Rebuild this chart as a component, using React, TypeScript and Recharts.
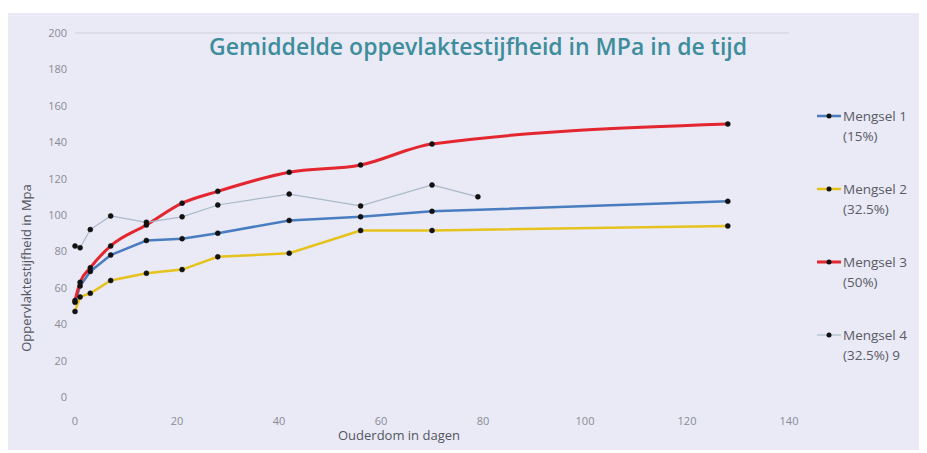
import {
  LineChart,
  Line,
  XAxis,
  YAxis,
  ReferenceLine,
  Label,
} from "recharts";

const days = [0, 1, 3, 7, 14, 21, 28, 42, 56, 70, 128];
const mengsel1 = [52, 61, 69, 78, 86, 87, 90, 97, 99, 102, 107.5];
const mengsel2 = [47, 55, 57, 64, 68, 70, 77, 79, 91.5, 91.5, 94];
const mengsel3 = [53, 63, 71, 83, 94.5, 106.5, 113, 123.5, 127.5, 139, 150];

const days4 = [0, 1, 3, 7, 14, 21, 28, 42, 56, 70, 79];
const mengsel4 = [83, 82, 92, 99.5, 96, 99, 105.5, 111.5, 105, 116.5, 110];

const xTicks = [0, 20, 40, 60, 80, 100, 120, 140];
const yTicks = [0, 20, 40, 60, 80, 100, 120, 140, 160, 180, 200];

const seriesNames = ["Mengsel 1", "Mengsel 2", "Mengsel 3", "Mengsel 4"];
const seriesSub = ["(15%)", "(32.5%)", "(50%)", "(32.5%) 9"];
const seriesColors = ["#4a7dbf", "#e6c21c", "#e3262f", "#a9b9c9"];
const seriesWidths = [2.5, 2.5, 3, 1.2];
const seriesCurves = ["linear", "linear", "monotone", "linear"] as const;

const toRows = (xs: number[], ys: number[]) =>
  xs.map((d, i) => ({ day: d, value: ys[i] }));

const series = [
  toRows(days, mengsel1),
  toRows(days, mengsel2),
  toRows(days, mengsel3),
  toRows(days4, mengsel4),
];

const FONT = "'Open Sans', 'Noto Sans', sans-serif";

function LegendBox() {
  return (
    <div
      style={{
        position: "absolute",
        left: 807,
        top: 93,
        width: 105,
        fontFamily: FONT,
        fontSize: 13.5,
        color: "#5a5a66",
      }}
    >
      {seriesNames.map((name, i) => (
        <div key={name} style={{ height: 73, display: "flex", alignItems: "flex-start" }}>
          <svg width={28} height={20} style={{ flex: "none" }}>
            <line x1={2} y1={10} x2={26} y2={10} stroke={seriesColors[i]} strokeWidth={seriesWidths[i]} />
            <circle cx={14} cy={10} r={2.5} fill="#111" />
          </svg>
          <div style={{ lineHeight: "20px" }}>
            <div>{name}</div>
            <div>{seriesSub[i]}</div>
          </div>
        </div>
      ))}
    </div>
  );
}

export default function App() {
  return (
    <div
      style={{
        position: "relative",
        width: 912,
        height: 437,
        marginTop: 5,
        background: "#e9eaf5",
      }}
    >
      <div
        style={{
          position: "absolute",
          left: 0,
          right: 0,
          top: 17,
          textAlign: "center",
          paddingLeft: 28,
          fontFamily: FONT,
          fontSize: 23,
          fontWeight: 600,
          color: "#3e8d9c",
        }}
      >
        Gemiddelde oppevlaktestijfheid in MPa in de tijd
      </div>
      <LineChart
        width={912}
        height={437}
        margin={{ top: 20, right: 131, left: 27, bottom: 23 }}
        style={{ fontFamily: FONT }}
      >
        <ReferenceLine y={200} stroke="#cfd0dc" strokeWidth={1} />
        <XAxis
          type="number"
          dataKey="day"
          domain={[0, 140]}
          ticks={xTicks}
          axisLine={false}
          tickLine={false}
          height={30}
          tick={{ fill: "#8a8a96", fontSize: 11 }}
          tickMargin={14}
        >
          <Label
            value="Ouderdom in dagen"
            position="insideBottom"
            offset={-13}
            dx={-33}
            style={{ fill: "#55555f", fontSize: 13 }}
          />
        </XAxis>
        <YAxis
          type="number"
          dataKey="value"
          domain={[0, 200]}
          ticks={yTicks}
          axisLine={false}
          tickLine={false}
          width={40}
          tick={{ fill: "#8a8a96", fontSize: 11 }}
          interval={0}
        >
          <Label
            content={(props: any) => {
              const vb = props.viewBox || {};
              const cx = (vb.x ?? 0) - 4;
              const cy = (vb.y ?? 0) + (vb.height ?? 0) / 2 + 53;
              return (
                <text
                  x={cx}
                  y={cy}
                  transform={`rotate(-90, ${cx}, ${cy})`}
                  textAnchor="middle"
                  fill="#55555f"
                  fontSize={13}
                >
                  Oppervlaktestijfheid in Mpa
                </text>
              );
            }}
          />
        </YAxis>
        {series.map((rows, i) => (
          <Line
            key={seriesNames[i]}
            data={rows}
            dataKey="value"
            name={seriesNames[i]}
            type={seriesCurves[i]}
            stroke={seriesColors[i]}
            strokeWidth={seriesWidths[i]}
            dot={{ r: 2.5, fill: "#111", stroke: "#111", strokeWidth: 0.5 }}
            activeDot={false}
            isAnimationActive={false}
          />
        ))}
      </LineChart>
      <LegendBox />
    </div>
  );
}
